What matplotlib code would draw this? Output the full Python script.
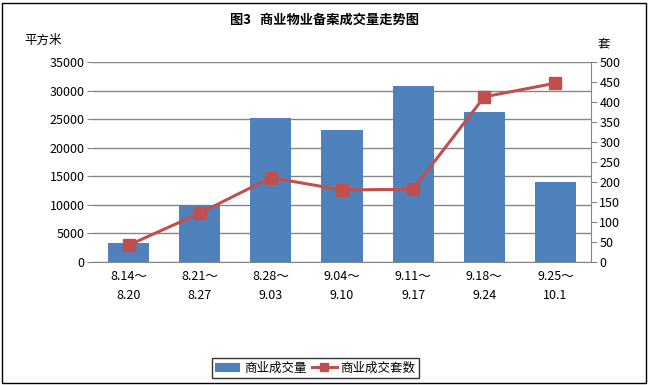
import numpy as np
import matplotlib
matplotlib.use("Agg")
import matplotlib.pyplot as plt
from matplotlib.patches import Rectangle

plt.rcParams['font.family'] = ['Noto Sans CJK SC', 'DejaVu Sans']

# data
weeks = ['8.14～\n8.20', '8.21～\n8.27', '8.28～\n9.03', '9.04～\n9.10',
         '9.11～\n9.17', '9.18～\n9.24', '9.25～\n10.1']
area = [3300, 9900, 25200, 23100, 30800, 26300, 14000]   # 平方米
units = [42, 122, 211, 180, 182, 413, 447]                # 套

bar_color = '#4F81BD'
line_color = '#C0504D'
grid_color = '#868686'

fig = plt.figure(figsize=(6.49, 3.85), dpi=100)
ax = fig.add_axes([93/649, 1-262/385, (591-93)/649, 200/385])
x = np.arange(len(weeks))

ax.bar(x, area, width=0.58, color=bar_color, zorder=2, label='商业成交量')
ax.set_ylim(0, 35000)
ax.set_yticks(np.arange(0, 35001, 5000))
ax.set_xlim(-0.5, len(weeks) - 0.5)
ax.set_xticks(x)
ax.set_xticklabels(weeks, fontsize=9, linespacing=1.6)
ax.yaxis.grid(True, color=grid_color, linewidth=1)
ax.set_axisbelow(True)
ax.tick_params(axis='x', length=0, pad=6)
ax.tick_params(axis='y', labelsize=9, length=4, color=grid_color, pad=2)
for s in ['top', 'left', 'right']:
    ax.spines[s].set_visible(False)
ax.spines['bottom'].set_color(grid_color)

ax2 = ax.twinx()
ax2.plot(x, units, color=line_color, linewidth=2.2, marker='s', markersize=8,
         zorder=3, label='商业成交套数')
ax2.set_ylim(0, 500)
ax2.set_yticks(np.arange(0, 501, 50))
ax2.tick_params(axis='y', labelsize=9, length=4, color=grid_color, pad=2)
for s in ['top', 'left', 'bottom']:
    ax2.spines[s].set_visible(False)
ax2.spines['right'].set_color(grid_color)

fig.text(0.5, 1-20/385, '图3   商业物业备案成交量走势图', ha='center', va='center',
         fontsize=9.5, fontweight='bold')
fig.text(24/649, 1-40/385, '平方米', ha='left', va='center', fontsize=9)
fig.text(604/649, 1-44/385, '套', ha='center', va='center', fontsize=9)

h1, l1 = ax.get_legend_handles_labels()
h2, l2 = ax2.get_legend_handles_labels()
leg = fig.legend(h1 + h2, l1 + l2, loc='center', bbox_to_anchor=(0.486, 1-368/385),
                 ncol=2, fontsize=9, frameon=True, fancybox=False, borderpad=0.25,
                 handlelength=2.0, columnspacing=0.4, handletextpad=0.3,
                 markerscale=0.75, borderaxespad=0)
leg.get_frame().set_edgecolor('black')
leg.get_frame().set_linewidth(1)

fig.patches.append(Rectangle((2/649, 2/385), 644/649, 380/385, transform=fig.transFigure,
                             fill=False, edgecolor='black', linewidth=1))

fig.savefig('out.png', dpi=100)
